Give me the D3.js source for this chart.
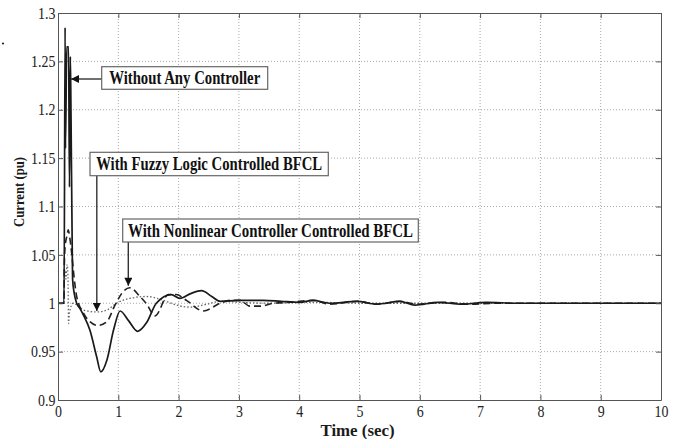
<!DOCTYPE html>
<html>
<head>
<meta charset="utf-8">
<script src="https://cdn.jsdelivr.net/npm/d3@7"></script>
<style>
  body { margin: 0; background: #fff; }
  svg { display: block; }
  text { font-family: "Liberation Serif", "Times New Roman", serif; }
</style>
</head>
<body>
<script>
// Current response after the fault
const noCtrlTime    = [0, 0.1, 0.118, 0.124, 0.145, 0.175, 0.19, 0.205, 0.215, 0.237, 0.243, 0.27, 0.31, 0.36, 0.42, 0.53, 0.64, 0.71, 0.81, 0.92, 1.03, 1.17, 1.32, 1.47, 1.63, 1.88, 2.02, 2.2, 2.38, 2.55, 2.69, 3.0, 3.4, 3.7, 4.0, 4.23, 4.5, 4.96, 5.28, 5.67, 5.92, 6.3, 6.7, 7.1, 7.6, 10];
const noCtrlCurrent = [1.0, 1.0, 1.285, 1.16, 1.265, 1.265, 1.12, 1.255, 1.2, 1.05, 1.024, 1.01, 1.0, 0.995, 0.988, 0.972, 0.945, 0.929, 0.941, 0.972, 0.992, 0.982, 0.971, 0.980, 1.0, 1.009, 1.005, 1.01, 1.013, 1.007, 1.002, 1.003, 1.003, 1.002, 1.001, 1.003, 1.0, 1.002, 0.999, 1.002, 0.998, 1.001, 0.999, 1.001, 1.0, 1.0];

const fuzzyTime    = [0, 0.1, 0.11, 0.13, 0.15, 0.165, 0.175, 0.19, 0.25, 0.42, 0.64, 0.81, 0.97, 1.19, 1.47, 1.75, 1.97, 2.19, 2.47, 2.69, 3.0, 3.5, 4.3, 5.0, 10];
const fuzzyCurrent = [1.0, 1.0, 1.035, 1.025, 1.04, 1.03, 0.979, 0.99, 1.0, 0.993, 0.991, 0.993, 1.0, 1.005, 1.007, 1.003, 0.998, 0.996, 0.999, 1.002, 1.001, 1.0, 1.001, 1.0, 1.0];

const nlcTime    = [0, 0.1, 0.105, 0.12, 0.15, 0.17, 0.19, 0.23, 0.27, 0.31, 0.42, 0.53, 0.66, 0.81, 0.945, 1.08, 1.19, 1.36, 1.46, 1.61, 1.83, 1.96, 2.13, 2.41, 2.69, 2.85, 3.02, 3.18, 3.35, 3.57, 3.85, 4.23, 4.51, 4.96, 5.3, 5.67, 5.95, 6.4, 6.8, 7.3, 10];
const nlcCurrent = [1.0, 1.0, 1.04, 1.06, 1.07, 1.076, 1.07, 1.05, 1.025, 1.007, 0.99, 0.981, 0.977, 0.981, 0.998, 1.012, 1.016, 1.007, 1.0, 0.987, 1.009, 1.009, 1.003, 0.992, 1.0, 1.003, 1.003, 0.997, 0.997, 1.0, 1.001, 1.003, 0.999, 1.002, 0.999, 1.002, 0.999, 1.001, 0.999, 1.0, 1.0];

const xTicks = [0, 1, 2, 3, 4, 5, 6, 7, 8, 9, 10];
const yTicks = [0.9, 0.95, 1, 1.05, 1.1, 1.15, 1.2, 1.25, 1.3];

const width = 680, height = 439;
const margin = {top: 13, right: 19, bottom: 39, left: 58};
const iw = width - margin.left - margin.right;
const ih = height - margin.top - margin.bottom;
const squeeze = 0.87; // the source figure is narrowed horizontally

let svg = d3.select('body').append('svg').attr('width', width).attr('height', height);
let g = svg.append('g').attr('transform', `translate(${margin.left},${margin.top})`);

let x = d3.scaleLinear().domain([0, 10]).range([0, iw]);
let y = d3.scaleLinear().domain([0.9, 1.3]).range([ih, 0]);

// grid
g.append('g').selectAll('line').data(xTicks.slice(1, -1)).enter().append('line')
    .attr('x1', d => x(d)).attr('x2', d => x(d)).attr('y1', 0).attr('y2', ih)
    .attr('stroke', '#aaa').attr('stroke-dasharray', '1,2');
g.append('g').selectAll('line').data(yTicks.slice(1, -1)).enter().append('line')
    .attr('y1', d => y(d)).attr('y2', d => y(d)).attr('x1', 0).attr('x2', iw)
    .attr('stroke', '#aaa').attr('stroke-dasharray', '1,2');

// curves
let line = d3.line().curve(d3.curveMonotoneX)
    .x(d => x(d[0])).y(d => y(d[1]));

function pairs(ts, vs) { return ts.map((t, i) => [t, vs[i]]); }

g.append('path').datum(pairs(fuzzyTime, fuzzyCurrent)).attr('d', line)
    .attr('fill', 'none').attr('stroke', '#666').attr('stroke-width', 1.3)
    .attr('stroke-dasharray', '1.5,2');
g.append('path').datum(pairs(nlcTime, nlcCurrent)).attr('d', line)
    .attr('fill', 'none').attr('stroke', '#222').attr('stroke-width', 1.6)
    .attr('stroke-dasharray', '7,4');
g.append('path').datum(pairs(noCtrlTime, noCtrlCurrent)).attr('d', line)
    .attr('fill', 'none').attr('stroke', '#1a1a1a').attr('stroke-width', 1.7);

// axes with inward ticks on all four sides
function styleAxis(sel) {
    sel.select('.domain').attr('stroke', '#555');
    sel.selectAll('.tick line').attr('stroke', '#555');
    sel.selectAll('.tick text').attr('fill', '#222').style('font-size', '16px');
}
let fmt = d => String(d);
g.append('g').attr('transform', `translate(0,${ih})`)
    .call(d3.axisBottom(x).tickValues(xTicks).tickFormat(fmt).tickSize(-5).tickSizeOuter(0).tickPadding(6))
    .call(styleAxis)
    .selectAll('.tick text').attr('transform', `scale(${squeeze},1)`);
g.append('g')
    .call(d3.axisLeft(y).tickValues(yTicks).tickFormat(fmt).tickSize(-5).tickSizeOuter(0).tickPadding(3))
    .call(styleAxis)
    .selectAll('.tick text').attr('transform', `scale(${squeeze},1)`);
g.append('g')
    .call(d3.axisTop(x).tickValues(xTicks).tickSize(-5).tickSizeOuter(0).tickFormat(''))
    .call(styleAxis);
g.append('g').attr('transform', `translate(${iw},0)`)
    .call(d3.axisRight(y).tickValues(yTicks).tickSize(-5).tickSizeOuter(0).tickFormat(''))
    .call(styleAxis);

// axis titles
svg.append('text')
    .attr('x', margin.left + iw / 2 - 2).attr('y', 436)
    .attr('text-anchor', 'middle').style('font-size', '17px').style('font-weight', 'bold')
    .attr('fill', '#1a1a1a').attr('textLength', 74).attr('lengthAdjust', 'spacingAndGlyphs')
    .text('Time (sec)');
svg.append('text')
    .attr('transform', 'translate(24,192) rotate(-90)')
    .attr('text-anchor', 'middle').style('font-size', '15px').style('font-weight', 'bold')
    .attr('fill', '#1a1a1a').attr('textLength', 70).attr('lengthAdjust', 'spacingAndGlyphs')
    .text('Current (pu)');

// stray mark in the source figure
svg.append('circle').attr('cx', 3).attr('cy', 43.5).attr('r', 1.1).attr('fill', '#222');

// annotations: box in pixels, arrow tip in data units
const notes = [
    {text: 'Without Any Controller', box: [101.7, 66.7, 166, 22.6], textLen: 151, tip: [0.216, 1.232], dir: 'left', from: [101.7, 79]},
    {text: 'With Fuzzy Logic Controlled BFCL', box: [90, 152.3, 238.3, 23.4], textLen: 226, tip: [0.64, 0.992], dir: 'down', from: [96.8, 175.7]},
    {text: 'With Nonlinear Controller Controlled BFCL', box: [122.7, 219, 295.6, 23], textLen: 285, tip: [1.166, 1.018], dir: 'down', from: [128.3, 242]}
];

let defs = svg.append('defs');
defs.append('marker').attr('id', 'head').attr('viewBox', '0 0 10 10')
    .attr('refX', 10).attr('refY', 5).attr('markerWidth', 9).attr('markerHeight', 8)
    .attr('markerUnits', 'userSpaceOnUse').attr('orient', 'auto')
    .append('path').attr('d', 'M0,0L10,5L0,10Z').attr('fill', '#111');

notes.forEach(function(n) {
    let tx = margin.left + x(n.tip[0]);
    let ty = margin.top + y(n.tip[1]);
    let x1 = n.from[0], y1 = n.from[1];
    let x2 = n.dir === 'left' ? tx : x1;
    let y2 = n.dir === 'left' ? y1 : ty;
    svg.append('line').attr('x1', x1).attr('y1', y1).attr('x2', x2).attr('y2', y2)
        .attr('stroke', '#333').attr('stroke-width', 1.4).attr('marker-end', 'url(#head)');
    svg.append('rect').attr('x', n.box[0]).attr('y', n.box[1])
        .attr('width', n.box[2]).attr('height', n.box[3])
        .attr('fill', '#fff').attr('stroke', '#666').attr('stroke-width', 1.2);
    svg.append('text')
        .attr('x', n.box[0] + (n.box[2] - n.textLen) / 2).attr('y', n.box[1] + n.box[3] / 2 + 6)
        .attr('textLength', n.textLen).attr('lengthAdjust', 'spacingAndGlyphs')
        .style('font-size', '18px').style('font-weight', 'bold').attr('fill', '#111')
        .text(n.text);
});
</script>
</body>
</html>
